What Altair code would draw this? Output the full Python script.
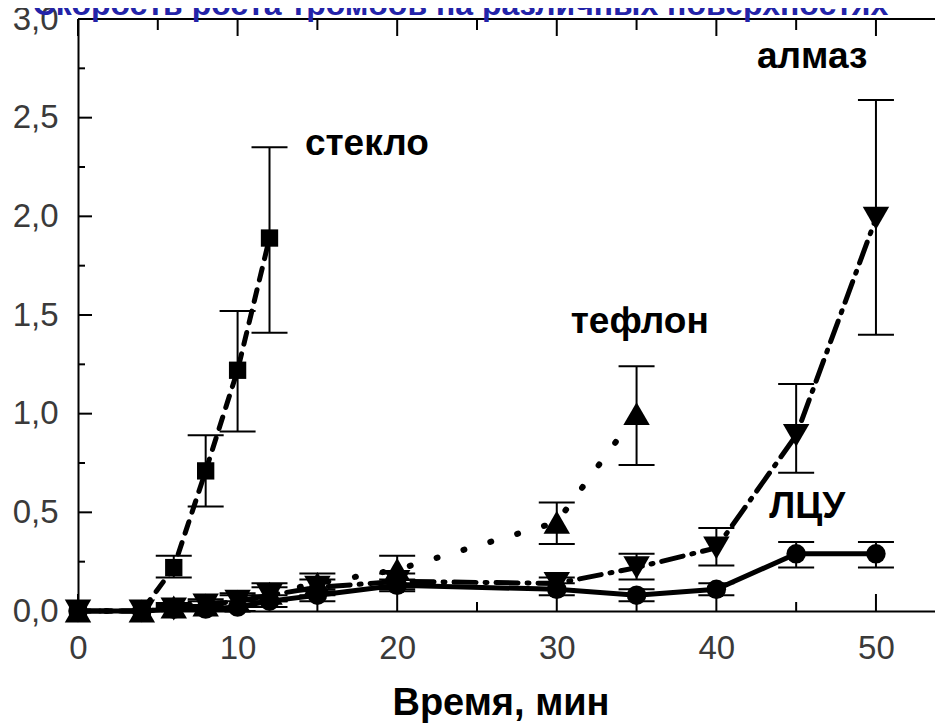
import altair as alt
import pandas as pd

# ---- data ----
glass_x = [0, 4, 6, 8, 10, 12]
glass_y = [0, 0, 0.22, 0.71, 1.22, 1.89]
glass_lo = [0, 0, 0.17, 0.53, 0.91, 1.41]
glass_hi = [0, 0, 0.28, 0.89, 1.52, 2.35]

teflon_x = [0, 4, 6, 8, 10, 12, 15, 20, 30, 35]
teflon_y = [0, 0, 0.02, 0.03, 0.05, 0.09, 0.14, 0.21, 0.45, 1.00]
teflon_lo = [0, 0, 0.0, 0.0, 0.02, 0.05, 0.10, 0.14, 0.34, 0.74]
teflon_hi = [0, 0, 0.04, 0.06, 0.09, 0.14, 0.19, 0.28, 0.55, 1.24]

diamond_x = [0, 4, 6, 8, 10, 12, 15, 20, 30, 35, 40, 45, 50]
diamond_y = [0, 0, 0.01, 0.03, 0.05, 0.08, 0.12, 0.15, 0.14, 0.22, 0.32, 0.89, 1.99]
diamond_lo = [0, 0, 0.0, 0.01, 0.02, 0.05, 0.08, 0.11, 0.11, 0.16, 0.23, 0.70, 1.40]
diamond_hi = [0, 0, 0.03, 0.05, 0.08, 0.12, 0.16, 0.19, 0.17, 0.29, 0.42, 1.15, 2.59]

lcu_x = [0, 4, 6, 8, 10, 12, 15, 20, 30, 35, 40, 45, 50]
lcu_y = [0, 0, 0.01, 0.01, 0.02, 0.05, 0.08, 0.13, 0.11, 0.08, 0.11, 0.29, 0.29]
lcu_lo = [0, 0, 0.0, 0.0, 0.0, 0.02, 0.05, 0.10, 0.08, 0.05, 0.08, 0.22, 0.22]
lcu_hi = [0, 0, 0.02, 0.03, 0.05, 0.08, 0.11, 0.16, 0.14, 0.11, 0.14, 0.35, 0.35]

label_text = ["стекло", "тефлон", "алмаз", "ЛЦУ"]
label_x = [18.1, 35.2, 46.0, 45.7]
label_y = [2.31, 1.41, 2.75, 0.47]

x_major = [0, 10, 20, 30, 40, 50]
x_minor = [5, 15, 25, 35, 45]
y_major = [0, 0.5, 1.0, 1.5, 2.0, 2.5, 3.0]
y_minor = [0.25, 0.75, 1.25, 1.75, 2.25, 2.75]

title_text = "Скорость роста тромбов на различных поверхностях"
x_title = "Время, мин"

# ---- layout ----
W, H = 857, 592
FONT = "Liberation Sans"
XMAX = 53.7

xs = alt.Scale(domain=[0, XMAX], nice=False, zero=False)
ys = alt.Scale(domain=[0, 3.0], nice=False)

x_axis = alt.Axis(values=x_major, ticks=False, grid=False, domain=True,
                  domainColor="black", domainWidth=2, labelFontSize=33,
                  labelFont=FONT, labelColor="#3a3a3a", labelPadding=21,
                  labelFlush=False, labelOverlap=False,
                  title=x_title, titleFont=FONT, titleFontSize=38,
                  titleFontWeight="bold", titleColor="black",
                  titleBaseline="alphabetic", titleY=103, titleX=W / 2 - 6)
y_axis = alt.Axis(values=y_major, ticks=False, grid=False, domain=True,
                  domainColor="black", domainWidth=2, labelFontSize=33,
                  labelFont=FONT, labelColor="#3a3a3a", labelPadding=20,
                  labelFlush=False, labelOverlap=False,
                  labelExpr="replace(format(datum.value, '.1f'), '.', ',')",
                  title=None)


def X(field):
    return alt.X(field, scale=xs, axis=x_axis)


def Y(field):
    return alt.Y(field, scale=ys, axis=y_axis)


series = [
    ("glass", glass_x, glass_y, glass_lo, glass_hi, "square", 300, [12, 10]),
    ("teflon", teflon_x, teflon_y, teflon_lo, teflon_hi, "triangle-up", 700, [1, 27]),
    ("diamond", diamond_x, diamond_y, diamond_lo, diamond_hi, "triangle-down", 700, [22, 9, 2, 9]),
    ("lcu", lcu_x, lcu_y, lcu_lo, lcu_hi, "circle", 380, None),
]

line_layers, err_layers, pt_layers = [], [], []
for name, sx, sy, slo, shi, shape, size, dash in series:
    df = pd.DataFrame({"x": sx, "y": sy, "lo": slo, "hi": shi})
    base = alt.Chart(df)
    lkw = dict(color="black", strokeWidth=5, strokeCap="round")
    if dash is not None:
        lkw["strokeDash"] = dash
    if name == "teflon":
        lkw["strokeWidth"] = 6
    line_layers.append(base.mark_line(**lkw).encode(x=X("x:Q"), y=Y("y:Q")))
    eb = base.transform_filter("datum.hi > datum.lo")
    err_layers.append(eb.mark_rule(color="black", strokeWidth=2).encode(
        x=X("x:Q"), y=Y("lo:Q"), y2="hi:Q"))
    err_layers.append(eb.mark_tick(color="black", orient="horizontal", size=36,
                                   thickness=2, opacity=1).encode(
        x=X("x:Q"), y=Y("lo:Q")))
    err_layers.append(eb.mark_tick(color="black", orient="horizontal", size=36,
                                   thickness=2, opacity=1).encode(
        x=X("x:Q"), y=Y("hi:Q")))
    pt_layers.append(base.mark_point(shape=shape, size=size, filled=True,
                                     color="black", opacity=1).encode(
        x=X("x:Q"), y=Y("y:Q")))

# inward ticks
xmaj = alt.Chart(pd.DataFrame({"v": x_major}))
xmin = alt.Chart(pd.DataFrame({"v": x_minor}))
ymaj = alt.Chart(pd.DataFrame({"v": y_major}))
ymin = alt.Chart(pd.DataFrame({"v": y_minor}))
tick_layers = [
    xmaj.mark_rule(color="black", strokeWidth=2).encode(
        x=X("v:Q"), y=alt.value(H), y2=alt.value(H - 17)),
    xmaj.mark_rule(color="black", strokeWidth=2).encode(
        x=X("v:Q"), y=alt.value(0), y2=alt.value(17)),
    xmin.mark_rule(color="black", strokeWidth=2).encode(
        x=X("v:Q"), y=alt.value(H), y2=alt.value(H - 9)),
    xmin.mark_rule(color="black", strokeWidth=2).encode(
        x=X("v:Q"), y=alt.value(0), y2=alt.value(11)),
    ymaj.mark_rule(color="black", strokeWidth=2).encode(
        y=Y("v:Q"), x=alt.value(0), x2=alt.value(14)),
    ymin.mark_rule(color="black", strokeWidth=2).encode(
        y=Y("v:Q"), x=alt.value(0), x2=alt.value(7)),
]

frame_top = alt.Chart(pd.DataFrame({"k": [0]})).mark_rule(
    color="black", strokeWidth=2).encode(
    y=alt.value(0), x=alt.value(0), x2=alt.value(W))

labels = alt.Chart(pd.DataFrame({"t": label_text, "x": label_x, "y": label_y})).mark_text(
    font=FONT, fontSize=37, fontWeight="bold", color="black",
    align="center", baseline="alphabetic").encode(
    x=X("x:Q"), y=Y("y:Q"), text="t:N")

title = alt.Chart(pd.DataFrame({"t": [title_text]})).mark_text(
    font=FONT, fontSize=32, fontWeight="bold", color="#2323a8",
    align="center", baseline="alphabetic").encode(
    x=alt.value(W / 2 - 46), y=alt.value(-4), text="t:N")

chart = alt.layer(*line_layers, *err_layers, *pt_layers, *tick_layers,
                  frame_top, labels, title).properties(
    width=W, height=H,
    autosize=alt.AutoSizeParams(type="none"),
    padding={"left": 70, "top": 11, "right": 0, "bottom": 113},
    background="white",
).configure_view(stroke=None)

chart.save("out.html", embed_options={"renderer": "svg", "actions": False})
